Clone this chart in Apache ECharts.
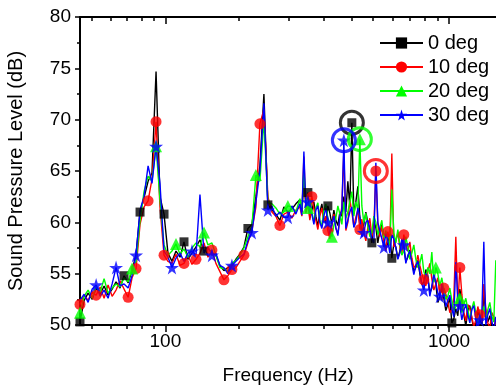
<!DOCTYPE html>
<html>
<head>
<meta charset="utf-8">
<script src="https://cdn.jsdelivr.net/npm/echarts@6/dist/echarts.min.js"></script>
<style>html,body{margin:0;padding:0;background:#fff}#c{width:496px;height:389px}</style>
</head>
<body>
<div id="c"></div>
<script>
// Frequency grid (Hz)
const freq = [50, 51.7, 53.4, 55.2, 57, 58.9, 60.8, 62.8, 64.9, 67, 69.2, 71.5, 73.9, 76.3, 78.8, 81.4, 84.1, 86.9, 89.7, 92.7,
  95.7, 98.9, 102.1, 105.5, 109, 112.6, 116.3, 120.1, 124.1, 128.2, 132.4, 136.8, 141.3, 145.9, 150.7, 155.7, 160.8, 166.1, 171.6, 177.3,
  183.1, 189.2, 195.4, 201.8, 208.5, 215.4, 222.5, 229.8, 237.4, 245.2, 253.3, 261.7, 270.3, 279.2, 288.4, 297.9, 307.8, 317.9, 328.4, 339.2,
  350.4, 362, 373.9, 386.3, 399, 412.2, 425.8, 439.8, 454.3, 469.3, 484.8, 500.8, 517.3, 534.4, 552, 570.2, 589, 608.5, 628.5, 649.3,
  670.7, 692.8, 715.7, 739.3, 763.7, 788.9, 814.9, 841.8, 869.6, 898.3, 927.9, 958.5, 990.2, 1022.9, 1056.6, 1091.5, 1127.5, 1164.7, 1203.1, 1242.8,
  1283.8, 1326.2, 1370, 1415.2, 1461.9];
// Extra in-between frequencies (denser sampling above ~300 Hz), one after each freq[55..103]
const freqMid = [302.8, 312.8, 323.1, 333.8, 344.8, 356.2, 367.9, 380.1, 392.6, 405.6, 418.9, 432.7, 447, 461.7, 477, 492.7, 509, 525.8, 543.1, 561,
  579.5, 598.7, 618.4, 638.8, 659.9, 681.6, 704.2, 727.4, 751.4, 776.2, 801.8, 828.2, 855.6, 883.8, 913, 943.1, 974.2, 1006.4, 1039.6, 1073.9,
  1109.4, 1146, 1183.8, 1222.8, 1263.1, 1304.9, 1347.9, 1392.4, 1438.4];

// Sound pressure level (dB) per angle
const deg0 = [50.3, 52.4, 53.1, 52.5, 53.6, 53.0, 53.8, 52.9, 53.5, 54.2, 53.6, 54.8, 54.1, 55.3, 56.9, 61.0, 62.4, 64.0, 64.8, 74.7,
  62.5, 60.8, 57.0, 56.2, 57.2, 56.6, 58.1, 56.4, 57.0, 57.6, 58.3, 57.2, 57.5, 57.0, 56.8, 55.8, 55.3, 55.6, 55.8, 56.4,
  56.9, 57.6, 59.4, 59.8, 62.5, 65.5, 72.5, 61.7, 61.2, 60.8, 60.2, 61.5, 61.0, 61.3, 61.8, 62.2, 64.0, 62.9, 61.2, 60.6,
  61.0, 60.4, 61.6, 59.8, 60.2, 61.0, 62.5, 64.0, 69.7, 62.0, 60.5, 59.8, 60.0, 58.0, 59.5, 59.2, 58.4, 58.0, 56.5, 57.6,
  57.2, 57.5, 56.6, 56.3, 55.6, 55.0, 54.2, 54.8, 53.6, 54.0, 52.8, 52.6, 52.0, 50.2, 51.6, 53.5, 51.0, 51.4, 50.6, 50.2,
  50.8, 53.0, 50.3, 49.8, 50.5];
const deg0Mid = [61.0, 61.8, 60.4, 62.0, 59.6, 61.8, 59.9, 60.9, 61.2, 59.7, 60.6, 61.0, 61.5, 60.8, 63.5, 59.0, 61.0, 59.4, 60.2, 58.0,
  59.8, 57.4, 58.8, 57.9, 56.5, 58.2, 56.2, 57.3, 55.2, 56.3, 53.9, 55.4, 53.1, 54.8, 52.2, 53.6, 51.4, 52.6, 50.6, 50.9,
  52.3, 49.9, 51.9, 49.6, 51.3, 49.8, 51.2, 50.9, 49.5];
const deg10 = [52.0, 52.9, 52.4, 53.2, 52.9, 53.7, 52.6, 53.9, 52.8, 53.4, 54.3, 53.5, 52.7, 54.6, 55.5, 59.8, 61.5, 62.1, 64.2, 69.8,
  61.5, 56.8, 56.2, 56.0, 56.9, 55.8, 56.0, 56.8, 55.9, 56.4, 57.0, 58.0, 56.6, 57.3, 56.0, 55.2, 54.4, 54.8, 55.4, 55.6,
  56.2, 56.8, 58.0, 59.2, 61.5, 69.6, 71.0, 62.5, 61.0, 60.6, 59.7, 60.8, 61.0, 60.4, 61.2, 61.5, 66.4, 61.8, 62.5, 60.2,
  60.6, 60.0, 59.2, 59.6, 59.4, 60.2, 67.0, 60.0, 61.0, 60.5, 59.3, 59.0, 59.5, 58.6, 65.0, 58.6, 58.0, 59.1, 66.7, 58.2,
  57.6, 58.8, 57.2, 56.5, 55.8, 55.8, 54.4, 55.2, 54.5, 54.0, 53.0, 53.6, 52.2, 51.5, 58.6, 55.6, 51.2, 52.0, 50.8, 50.5,
  51.0, 54.0, 50.2, 51.2, 50.0];
const deg10Mid = [60.6, 60.9, 60.2, 61.3, 59.3, 61.4, 60.6, 58.4, 60.8, 58.9, 61.5, 59.2, 62.2, 59.6, 61.2, 60.3, 58.2, 60.4, 59.5, 59.8,
  59.6, 57.2, 58.0, 57.6, 59.0, 56.9, 57.8, 58.1, 55.6, 56.8, 55.0, 53.8, 56.0, 53.4, 54.6, 52.4, 53.0, 51.2, 52.6, 51.8,
  53.0, 50.4, 51.6, 49.8, 51.8, 50.3, 51.6, 49.7, 50.8];
const deg20 = [51.2, 52.8, 53.4, 52.6, 53.8, 53.2, 54.5, 53.1, 53.6, 54.0, 53.7, 54.6, 54.2, 55.5, 56.2, 60.2, 63.0, 64.5, 64.0, 67.4,
  62.2, 57.8, 56.8, 57.2, 57.9, 56.9, 57.4, 56.6, 57.5, 58.0, 57.6, 59.0, 57.8, 58.0, 56.8, 55.6, 55.5, 55.2, 56.0, 56.3,
  56.8, 57.5, 58.6, 59.6, 64.6, 64.0, 70.0, 62.0, 61.8, 61.4, 60.8, 61.0, 61.6, 61.5, 61.0, 62.3, 65.0, 61.4, 61.0, 61.4,
  60.2, 61.2, 60.4, 58.6, 60.4, 60.8, 62.0, 61.0, 63.0, 62.0, 68.1, 60.0, 59.6, 59.0, 60.0, 59.4, 58.5, 58.2, 63.2, 58.0,
  57.9, 57.2, 57.6, 57.0, 56.4, 56.0, 55.2, 55.6, 57.1, 55.6, 53.8, 53.4, 52.8, 52.4, 51.8, 52.6, 52.0, 51.5, 51.6, 51.2,
  50.6, 51.8, 51.5, 50.9, 56.3];
const deg20Mid = [61.2, 62.4, 62.3, 60.0, 61.9, 59.6, 61.8, 59.9, 59.7, 61.6, 59.8, 60.4, 62.0, 60.6, 61.2, 61.6, 60.9, 58.6, 60.6, 58.8,
  60.2, 59.2, 57.8, 59.0, 59.3, 56.8, 58.6, 56.4, 57.8, 55.6, 56.9, 54.6, 55.0, 54.2, 55.0, 54.6, 52.5, 53.6, 51.4, 53.0,
  51.2, 52.6, 50.5, 52.3, 50.2, 51.4, 50.4, 52.2, 50.3];
const deg30 = [52.4, 53.0, 52.2, 53.5, 53.9, 52.8, 53.4, 52.6, 54.0, 55.6, 53.8, 54.0, 53.6, 54.8, 56.8, 61.2, 62.5, 65.5, 63.8, 67.4,
  63.8, 57.2, 56.6, 55.6, 56.5, 57.0, 56.2, 57.0, 57.2, 56.8, 62.7, 57.0, 57.6, 56.8, 57.0, 55.8, 55.6, 55.0, 55.8, 56.2,
  56.6, 56.9, 58.2, 59.0, 62.0, 65.0, 71.6, 61.2, 61.6, 60.6, 61.0, 60.5, 60.5, 61.6, 60.8, 61.8, 66.9, 62.0, 60.8, 61.2,
  60.0, 60.6, 60.0, 59.8, 59.5, 60.6, 68.0, 60.2, 61.5, 60.0, 60.5, 59.0, 60.2, 58.4, 65.8, 59.2, 57.6, 58.2, 58.8, 57.5,
  57.0, 57.8, 56.8, 56.0, 55.8, 55.2, 53.4, 54.6, 53.8, 54.2, 52.8, 53.0, 52.4, 51.6, 56.1, 51.9, 51.4, 51.0, 51.5, 50.6,
  50.5, 58.1, 51.0, 50.4, 50.8];
const deg30Mid = [60.7, 61.5, 61.0, 59.8, 61.6, 59.4, 61.4, 58.8, 60.6, 58.7, 61.2, 59.4, 61.0, 59.5, 61.4, 58.6, 60.0, 59.3, 58.0, 60.0,
  59.3, 58.9, 57.0, 58.4, 56.4, 58.4, 56.0, 57.2, 54.9, 56.2, 54.0, 55.0, 52.8, 54.9, 53.1, 54.0, 51.8, 52.9, 50.8, 52.6,
  50.5, 52.0, 50.2, 51.9, 49.6, 51.0, 50.0, 51.6, 49.4];

// Indices (into freq / degX) of plotted markers per series
const mark0 = [0, 11, 15, 21, 26, 31, 42, 47, 57, 62, 68, 73, 78, 93];
const mark10 = [0, 4, 12, 14, 17, 19, 21, 26, 29, 33, 36, 38, 41, 45, 50, 58, 62, 70, 74, 77, 81, 86, 91, 95, 100];
const mark20 = [0, 13, 19, 24, 31, 44, 52, 57, 63, 70, 89, 95];
const mark30 = [4, 9, 14, 19, 23, 28, 33, 38, 43, 47, 52, 57, 62, 66, 71, 76, 81, 86, 90, 95, 100];
// Highlighted (circled) peak index per series
const circled = [68, 74, 70, 66];

const names = ['0 deg', '10 deg', '20 deg', '30 deg'];
const xMajorTicks = [100, 1000];
const xMinorTicks = [54.9, 64.0, 72.9, 82.3, 90.7, 182, 273, 363, 455, 540, 635, 729, 823, 915];

const colors = ['#000000', '#ff0000', '#00ff00', '#0000ff'];
const starPath = 'path://M50,0 L61,35 L98,35 L68,57 L79,91 L50,70 L21,91 L32,57 L2,35 L39,35 Z';
const symbols = ['rect', 'circle', 'triangle', starPath];
const symSizes = [9, 11, 12, 14];
const allData = [deg0, deg10, deg20, deg30];
const allMid = [deg0Mid, deg10Mid, deg20Mid, deg30Mid];
const allMarks = [mark0, mark10, mark20, mark30];
const MID_START = 55;

const FONT = 'Liberation Sans, Arial, sans-serif';
const XMIN = 50, XMAX = 1464;

function lineData(d, mid) {
  const out = [];
  freq.forEach((f, i) => {
    out.push([f, d[i]]);
    const j = i - MID_START;
    if (j >= 0 && j < freqMid.length) out.push([freqMid[j], mid[j]]);
  });
  return out;
}

function xAxisDef(pos, ticks, len, inside, showLabel, showLine) {
  return {
    type: 'log', logBase: 10, min: XMIN, max: XMAX, position: pos, offset: 0,
    axisLine: { show: showLine, onZero: false, lineStyle: { color: '#000', width: 2 } },
    axisTick: { show: true, inside: inside, length: len, customValues: ticks, lineStyle: { color: '#000', width: 1.5 } },
    axisLabel: { show: showLabel, customValues: ticks, margin: 7, color: '#000', fontSize: 19, fontFamily: FONT,
      formatter: v => String(Math.round(v)) },
    splitLine: { show: false }, minorTick: { show: false }, minorSplitLine: { show: false }
  };
}

const xAxes = [
  Object.assign(xAxisDef('bottom', xMajorTicks, 7, false, true, true), {
    name: 'Frequency (Hz)', nameLocation: 'middle', nameGap: 41,
    nameTextStyle: { color: '#000', fontSize: 19, fontFamily: FONT }
  }),
  xAxisDef('bottom', xMinorTicks, 4, false, false, false),
  xAxisDef('top', xMajorTicks, 7, true, false, true),
  xAxisDef('top', xMinorTicks, 4, true, false, false)
];

const series = [];
allData.forEach((d, k) => {
  series.push({
    type: 'line', name: names[k], xAxisIndex: 0, yAxisIndex: 0,
    data: lineData(d, allMid[k]),
    symbol: symbols[k], symbolSize: symSizes[k], showSymbol: false,
    lineStyle: { color: colors[k], width: 1.4 }, itemStyle: { color: colors[k] },
    silent: true, z: 2 + k, clip: true
  });
});
allData.forEach((d, k) => {
  series.push({
    type: 'scatter', name: names[k], xAxisIndex: 0, yAxisIndex: 0,
    data: allMarks[k].map(i => [freq[i], d[i]]),
    symbol: symbols[k], symbolSize: symSizes[k],
    itemStyle: { color: colors[k] }, silent: true, z: 10 + k
  });
});
allData.forEach((d, k) => {
  series.push({
    type: 'scatter', name: names[k] + ' peak', xAxisIndex: 0, yAxisIndex: 0,
    data: [[freq[circled[k]], d[circled[k]]]],
    symbol: 'circle', symbolSize: 23,
    itemStyle: { color: 'rgba(0,0,0,0)', borderColor: colors[k], borderWidth: 3 }, silent: true, z: 20 + k
  });
});

const chart = echarts.init(document.getElementById('c'), null, { renderer: 'canvas' });
chart.setOption({
  animation: false,
  backgroundColor: '#fff',
  grid: { left: 80, right: 0, top: 17, bottom: 64, containLabel: false, outerBoundsMode: 'none' },
  legend: {
    data: names, left: 374, top: 28, orient: 'vertical',
    itemWidth: 43, itemHeight: 14, itemGap: 4,
    textStyle: { color: '#000', fontSize: 20, fontFamily: FONT, lineHeight: 18 },
    selectedMode: false
  },
  xAxis: xAxes,
  yAxis: {
    type: 'value', min: 50, max: 80, interval: 5,
    name: 'Sound Pressure Level (dB)', nameLocation: 'middle', nameGap: 54,
    nameTextStyle: { color: '#000', fontSize: 20, fontFamily: FONT },
    axisLine: { show: true, onZero: false, lineStyle: { color: '#000', width: 2 } },
    axisTick: { show: true, inside: false, length: 5, lineStyle: { color: '#000', width: 1.5 } },
    minorTick: { show: true, splitNumber: 2, length: 3, lineStyle: { color: '#000', width: 1.5 } },
    axisLabel: { margin: 9, color: '#000', fontSize: 19, fontFamily: FONT },
    splitLine: { show: false }
  },
  series: series
});
</script>
</body>
</html>
